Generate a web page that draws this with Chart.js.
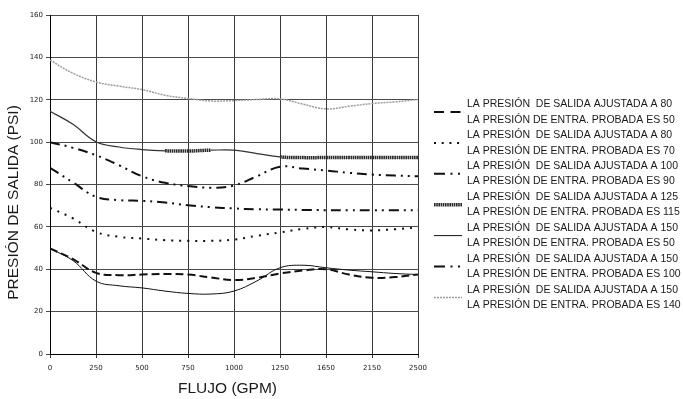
<!DOCTYPE html>
<html><head><meta charset="utf-8">
<script src="https://cdn.jsdelivr.net/npm/chart.js@4.4.1/dist/chart.umd.min.js"></script>
<style>html,body{margin:0;padding:0;background:#fff;} #wrap{width:683px;height:399px;position:relative;}</style>
</head><body><div id="wrap"><canvas id="c" width="683" height="399"></canvas></div>
<script>
// ---- DATA ----
const xTickLabels = ['0','250','500','750','1000','1250','1650','2150','2500'];
// positions along the flow axis (in tick-label steps), shared by all series
const xPos = [0,0.5,1,1.5,2,2.5,3,3.5,4,4.5,5,5.5,6,6.5,7,7.5,8];
const outletSet   = [80, 80, 100, 125, 150, 150, 150];
const inletTested = [50, 70, 90, 115, 50, 100, 140];
const s80_50   = [49.8,44.8,38.3,37.2,37.5,37.8,37.5,36.1,34.9,36.0,38.0,39.4,40.0,37.5,36.0,36.3,37.5];
const s80_70   = [69.0,64.0,57.6,55.3,54.5,53.7,53.4,53.4,54.0,55.8,57.4,59.0,59.9,58.8,58.3,58.9,59.7];
const s100_90  = [87.9,81.0,74.2,72.6,72.3,71.5,70.2,69.3,68.7,68.3,68.2,68.0,67.9,67.9,67.9,67.9,67.9];
const s125_115 = [114.6,108.4,100.2,97.7,96.5,95.9,95.8,96.2,96.2,94.6,93.0,92.7,92.7,92.7,92.7,92.7,92.7];
const s150_50  = [49.8,44.1,34.4,32.2,31.2,29.7,28.6,28.3,29.7,34.5,40.7,41.9,40.7,39.6,38.8,38.0,37.5];
const s150_100 = [100.0,97.3,93.8,89.1,83.9,80.8,79.3,78.5,79.5,83.9,88.4,87.5,86.6,85.5,84.7,84.2,83.9];
const s150_140 = [138.7,132.5,128.4,126.4,124.8,122.1,120.6,119.4,119.6,120.1,120.4,117.9,115.7,116.9,118.2,119.0,120.1];
const seriesValues = [s80_50, s80_70, s100_90, s125_115, s150_50, s150_100, s150_140];

// ---- STYLES ----
const styles = [
  {color:'#111', width:2,   dash:[8,4],          legendDash:[10,6.5]},
  {color:'#111', width:2,   dash:[2,6],          legendDash:[2,5.7]},
  {color:'#111', width:2,   dash:[10,5,2,5,2,5], legendDash:[11,5.5,2,5.5,2,20]},
  {color:'#333', width:1.2, dash:[],             legendDash:[1.6,0.6], legendWidth:3.5, legendColor:'#2a2a2a'},
  {color:'#111', width:1,   dash:[],             legendDash:[]},
  {color:'#111', width:2,   dash:[10,5,2,5,2,5], legendDash:[11,5.5,2,5.5,2,20]},
  {color:'#9c9c9c', width:1.5, dash:[2,1],       legendDash:[2,1]}
];

const datasets = seriesValues.map((vals, i) => {
  const st = styles[i];
  const ds = {
    label: 'LA PRESIÓN  DE SALIDA AJUSTADA A ' + outletSet[i] + '\nLA PRESIÓN DE ENTRA. PROBADA ES ' + inletTested[i],
    data: vals.map((v, k) => ({x: xPos[k], y: v})),
    borderColor: st.color,
    borderWidth: st.width,
    borderDash: st.dash,
    pointRadius: 0,
    fill: false,
    tension: 0.4,
    _st: st
  };
  if (i === 3) {
    const thick = c => (c.p0.parsed.x >= 2.5 && c.p1.parsed.x <= 3.5) || c.p0.parsed.x >= 5;
    ds.segment = {
      borderWidth: c => thick(c) ? 3.5 : 1.2,
      borderColor: c => thick(c) ? '#2a2a2a' : '#333',
      borderDash: c => thick(c) ? [1.6,0.6] : []
    };
  }
  return ds;
});

const TXT = '#1a1a1a';
const overlay = {
  id: 'overlay',
  afterDraw(chart) {
    const ctx = chart.ctx;
    ctx.save();
    // axis titles
    ctx.fillStyle = TXT;
    ctx.font = '15.5px "Liberation Sans", Arial, sans-serif';
    ctx.textAlign = 'center';
    ctx.textBaseline = 'middle';
    ctx.fillText('FLUJO (GPM)', 227.5, 389);
    ctx.save();
    ctx.translate(13.5, 202.5);
    ctx.rotate(-Math.PI / 2);
    ctx.fillText('PRESIÓN DE SALIDA (PSI)', 0, 0);
    ctx.restore();
    // legend
    ctx.font = '10.5px "Liberation Sans", Arial, sans-serif';
    ctx.textAlign = 'left';
    chart.data.datasets.forEach((ds, i) => {
      const y1 = 104.5 + i * 30.9;
      const y2 = y1 + 15.3;
      const lines = ds.label.split('\n');
      ctx.fillStyle = TXT;
      ctx.fillText(lines[0], 467, y1);
      ctx.fillText(lines[1], 467, y2);
      const st = ds._st;
      ctx.beginPath();
      ctx.strokeStyle = st.legendColor || st.color;
      ctx.lineWidth = st.legendWidth || st.width;
      ctx.setLineDash(st.legendDash);
      ctx.lineCap = 'butt';
      const sy = y1 + 7.5;
      ctx.moveTo(434, sy);
      ctx.lineTo(462, sy);
      ctx.stroke();
    });
    ctx.restore();
  }
};

const tickFont = {family: '"DejaVu Sans", sans-serif', size: 7};

new Chart(document.getElementById('c'), {
  type: 'line',
  data: {datasets},
  plugins: [overlay],
  options: {
    responsive: false,
    animation: false,
    devicePixelRatio: 1,
    layout: {padding: {left: 0, top: 15, right: 265, bottom: 0}},
    plugins: {legend: {display: false}, tooltip: {enabled: false}},
    scales: {
      x: {
        type: 'linear', min: 0, max: 8,
        afterBuildTicks: s => { s.ticks = xTickLabels.map((_, i) => ({value: i})); },
        afterFit: s => { s.height = 45; },
        ticks: {callback: v => xTickLabels[v], font: tickFont, color: TXT, padding: 6, maxRotation: 0, autoSkip: false},
        grid: {color: '#3a3a3a', lineWidth: 1, tickLength: 4},
        border: {color: '#000', width: 1}
      },
      y: {
        min: 0, max: 160,
        afterFit: s => { s.width = 50; },
        ticks: {stepSize: 20, font: tickFont, color: TXT, padding: 3},
        grid: {color: '#4a4a4a', lineWidth: 1, tickLength: 4},
        border: {color: '#000', width: 1}
      }
    }
  }
});
</script>
</body></html>
